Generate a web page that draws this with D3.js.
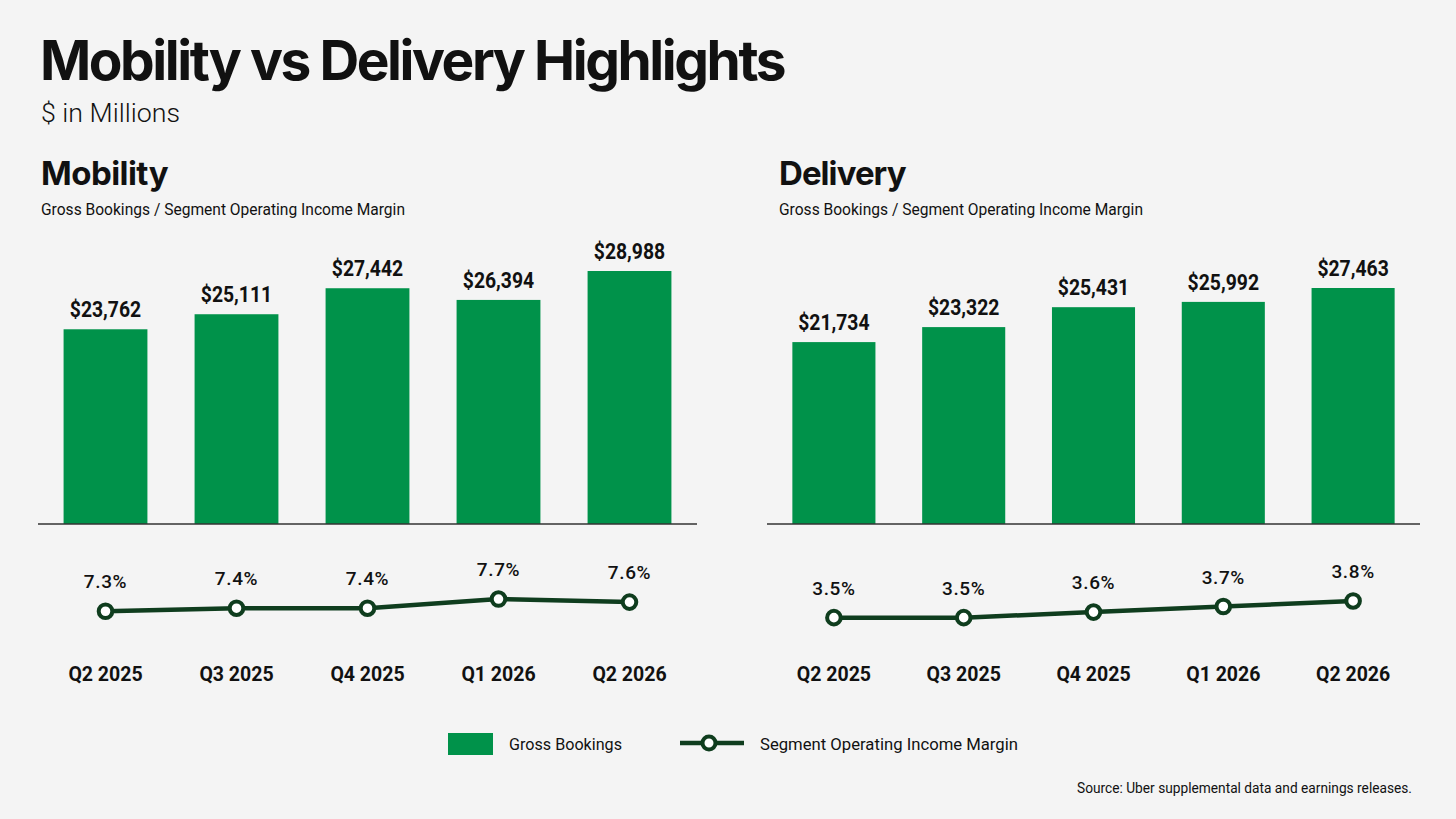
<!DOCTYPE html>
<html>
<head>
<meta charset="utf-8">
<script src="https://cdn.jsdelivr.net/npm/d3@7"></script>
<style>
  html, body { margin: 0; padding: 0; background: #f4f4f4; }
  svg { display: block; }
  text { fill: #111; }
</style>
</head>
<body>
<div id="chart"></div>
<script>
// chart data
const quarters = ["Q2 2025", "Q3 2025", "Q4 2025", "Q1 2026", "Q2 2026"];
const mobilityBookings = [23762, 25111, 27442, 26394, 28988];
const mobilityMargin = [7.3, 7.4, 7.4, 7.7, 7.6];
const deliveryBookings = [21734, 23322, 25431, 25992, 27463];
const deliveryMargin = [3.5, 3.5, 3.6, 3.7, 3.8];

const W = 1456, H = 819;
const BAR = "#00924a", LINE = "#0f3d1e";

const svg = d3.select("#chart").append("svg")
    .attr("width", W).attr("height", H)
    .attr("viewBox", `0 0 ${W} ${H}`);

svg.append("rect").attr("width", W).attr("height", H).attr("fill", "#f4f4f4");

// squeeze/stretch a text to a given width
function fit(sel, w, adj = "spacingAndGlyphs") {
    sel.attr("textLength", w).attr("lengthAdjust", adj);
}
function squeeze(sel, k) {
    sel.each(function () {
        const n = this.getComputedTextLength();
        d3.select(this).attr("textLength", n * k).attr("lengthAdjust", "spacingAndGlyphs");
    });
}

// Header
svg.append("text").attr("x", 40).attr("y", 80)
    .style("font", "700 55px Inter").style("letter-spacing", "-1.5px")
    .text("Mobility vs Delivery Highlights")
    .call(fit, 745, "spacing");
svg.append("text").attr("x", 41).attr("y", 122)
    .style("font", "300 25px Roboto")
    .text("$ in Millions")
    .call(fit, 139);

const panels = [
    { name: "Mobility", hx: 41, x0: 40, x1: 695, floor: 6300, top: 271,
      bookings: mobilityBookings, margin: mobilityMargin,
      mDomain: [7, 8], mRange: [620.4, 589.9] },
    { name: "Delivery", hx: 779, x0: 769, x1: 1418, floor: 2470, top: 288,
      bookings: deliveryBookings, margin: deliveryMargin,
      mDomain: [3, 4], mRange: [645.5, 589.8] }
];

const baseY = 524;

panels.forEach(p => {
    const g = svg.append("g");

    g.append("text").attr("x", p.hx).attr("y", 185)
        .style("font", "700 33px Inter").style("letter-spacing", "-0.5px")
        .text(p.name).call(fit, 127, "spacing");
    g.append("text").attr("x", p.hx).attr("y", 215)
        .style("font", "400 16px Roboto")
        .text("Gross Bookings / Segment Operating Income Margin")
        .call(fit, 364);

    const data = quarters.map((q, i) => ({ q, b: p.bookings[i], m: p.margin[i] }));

    const x = d3.scaleBand().domain(quarters)
        .range([p.x0, p.x1]).paddingInner(0.36).paddingOuter(0.18);
    const y = d3.scaleLinear().domain([p.floor, d3.max(p.bookings)]).range([baseY, p.top]);
    const ym = d3.scaleLinear().domain(p.mDomain).range(p.mRange);
    const cx = d => x(d.q) + x.bandwidth() / 2;

    // bars
    g.selectAll(".bar").data(data).enter().append("rect")
        .attr("x", d => x(d.q)).attr("width", x.bandwidth())
        .attr("y", d => y(d.b)).attr("height", d => baseY - y(d.b))
        .attr("fill", BAR);

    g.selectAll(".blab").data(data).enter().append("text")
        .attr("x", cx).attr("y", d => y(d.b) - 12)
        .attr("text-anchor", "middle")
        .style("font", "700 21.5px Roboto")
        .text(d => "$" + d3.format(",")(d.b))
        .call(squeeze, 0.9);

    // baseline
    g.append("line")
        .attr("x1", p.x0 - 2).attr("x2", p.x1 + 2)
        .attr("y1", baseY).attr("y2", baseY)
        .attr("stroke", "#333").attr("stroke-width", 1.5);

    // margin line
    g.append("path").datum(data)
        .attr("fill", "none").attr("stroke", LINE).attr("stroke-width", 4.5)
        .attr("stroke-linejoin", "round")
        .attr("d", d3.line().x(cx).y(d => ym(d.m)));

    g.selectAll(".dot").data(data).enter().append("circle")
        .attr("cx", cx).attr("cy", d => ym(d.m)).attr("r", 6.8)
        .attr("fill", "#fff").attr("stroke", LINE).attr("stroke-width", 4);

    g.selectAll(".mlab").data(data).enter().append("text")
        .attr("x", cx).attr("y", d => ym(d.m) - 23)
        .attr("text-anchor", "middle")
        .style("font", "500 19px Roboto").style("letter-spacing", "0.6px")
        .text(d => d.m.toFixed(1) + "%");

    // quarter labels
    const ax = g.append("g").attr("transform", `translate(0,681)`)
        .call(d3.axisBottom(x).tickSize(0).tickPadding(0));
    ax.select(".domain").remove();
    ax.selectAll("text")
        .attr("dy", 0)
        .style("font", "700 19.5px Roboto").style("fill", "#111");
});

// legend
const lg = svg.append("g");
lg.append("rect").attr("x", 448).attr("y", 733).attr("width", 45).attr("height", 22).attr("fill", BAR);
lg.append("text").attr("x", 509).attr("y", 750)
    .style("font", "400 17px Roboto").text("Gross Bookings").call(fit, 113);
lg.append("line").attr("x1", 680).attr("x2", 744).attr("y1", 743).attr("y2", 743)
    .attr("stroke", LINE).attr("stroke-width", 4.5);
lg.append("circle").attr("cx", 709).attr("cy", 743).attr("r", 6.5)
    .attr("fill", "#fff").attr("stroke", LINE).attr("stroke-width", 4);
lg.append("text").attr("x", 760).attr("y", 750)
    .style("font", "400 17px Roboto").text("Segment Operating Income Margin").call(fit, 258);

svg.append("text").attr("x", 1412).attr("y", 793).attr("text-anchor", "end")
    .style("font", "400 14.5px Roboto")
    .text("Source: Uber supplemental data and earnings releases.")
    .call(fit, 335);
</script>
</body>
</html>
